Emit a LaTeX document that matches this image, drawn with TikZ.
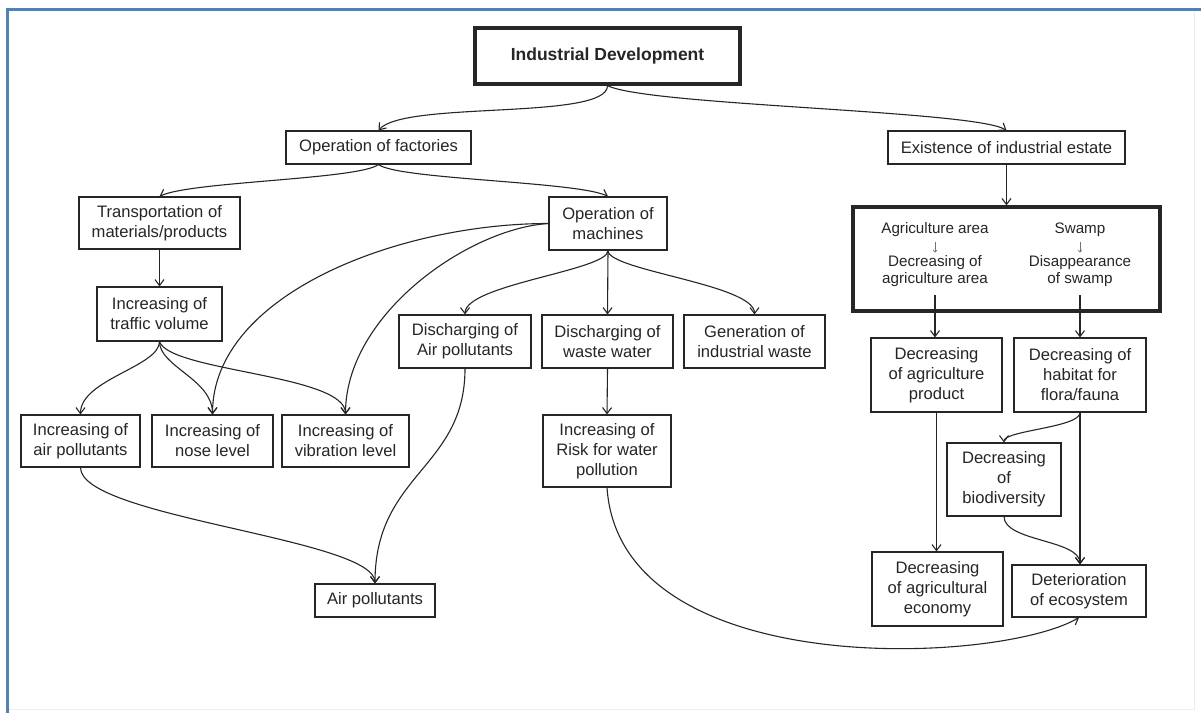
\documentclass[tikz,border=0pt]{standalone}
\usepackage{fontspec}
\setmainfont{Liberation Sans}
\usetikzlibrary{arrows.meta}
\definecolor{frameblue}{RGB}{79,129,189}
\definecolor{ink}{RGB}{38,38,38}
\newcommand\boxfont{\fontsize{16.6pt}{20pt}\selectfont}
\newcommand\innerfont{\fontsize{15.2pt}{17pt}\selectfont}
% box: name, x, y, width, height, text
\newcommand\bnode[6]{\node[bx,minimum width=#4pt,minimum height=#5pt] (#1) at (#2,#3) {#6};}

\begin{document}
\begin{tikzpicture}[x=1pt,y=-1pt,
  bx/.style={draw=ink,line width=1.1pt,inner sep=0pt,align=center,font=\boxfont,text=ink},
  heavy/.style={line width=3.3pt},
  lbl/.style={inner sep=0pt,align=center,font=\innerfont,text=ink},
  conn/.style={draw=ink,line width=1.1pt,-{Straight Barb[length=6pt,width=9pt,line width=1.1pt]}},
  minilink/.style={draw=black!55,line width=0.7pt,-{Straight Barb[length=2pt,width=3.5pt,line width=0.7pt]}},
]
\useasboundingbox (0,0) rectangle (1201,713);
\fill[white] (0,0) rectangle (1201,713);

% frame
\draw[black!7,line width=1pt] (1194,10) -- (1194,709) -- (8,709);
\draw[frameblue,line width=2.6pt] (7.5,713) -- (7.5,9.5) -- (1201,9.5);

% top level
\node[bx,heavy,minimum width=265pt,minimum height=56pt,font=\bfseries\fontsize{17.5pt}{21pt}\selectfont] (ID) at (607.5,56) {Industrial Development};

\bnode{opf}{378.5}{147.5}{185}{33}{Operation of factories}
\bnode{exi}{1006.5}{147.5}{237}{33}{Existence of industrial estate}

% left branch
\bnode{trans}{159.5}{223}{161}{52}{Transportation of\\materials/products}
\bnode{opm}{608}{223.5}{118}{53}{Operation of\\machines}
\bnode{traffic}{159.5}{314}{125}{54}{Increasing of\\traffic volume}
\bnode{dair}{465}{341.5}{132}{53}{Discharging of\\Air pollutants}
\bnode{dww}{607.5}{341.5}{131}{53}{Discharging of\\waste water}
\bnode{gen}{754.5}{341.5}{141}{53}{Generation of\\industrial waste}
\bnode{iap}{80.5}{441}{119}{52}{Increasing of\\air pollutants}
\bnode{inl}{212.5}{441}{121}{52}{Increasing of\\nose level}
\bnode{ivl}{345.5}{441}{127}{52}{Increasing of\\vibration level}
\bnode{risk}{607}{451}{128}{72}{Increasing of\\Risk for water\\pollution}
\bnode{airp}{375}{600.5}{120}{33}{Air pollutants}

% right branch
\node[bx,heavy,minimum width=307pt,minimum height=104pt] (big) at (1006.5,259) {};
\node[lbl] (agA) at (935,230) {Agriculture area};
\node[lbl] (agB) at (935,271.5) {Decreasing of\\agriculture area};
\node[lbl] (swA) at (1080,230) {Swamp};
\node[lbl] (swB) at (1080,271.5) {Disappearance\\of swamp};
\draw[minilink,shorten <=5pt,shorten >=3pt] (agA.south) -- (agA.south |- agB.north);
\draw[minilink,shorten <=5pt,shorten >=3pt] (swA.south) -- (swA.south |- swB.north);

\bnode{agp}{936.5}{375}{131}{74}{Decreasing\\of agriculture\\product}
\bnode{hab}{1080}{375}{132}{74}{Decreasing of\\habitat for\\flora/fauna}
\bnode{bio}{1004}{479.5}{114}{73}{Decreasing\\of\\biodiversity}
\bnode{agec}{937.5}{589}{131}{74}{Decreasing\\of agricultural\\economy}
\bnode{det}{1079}{591}{134}{52}{Deterioration\\of ecosystem}

% connectors
\draw[conn] (ID.south) .. controls +(0,35) and +(25,-30) .. (opf.north);
\draw[conn] (ID.south) .. controls +(40,20) and +(-30,-20) .. (exi.north);
\draw[conn] (opf.south) .. controls +(-20,15) and +(30,-15) .. (trans.north);
\draw[conn] (opf.south) .. controls +(20,15) and +(-30,-15) .. (opm.north);
\draw[conn] (trans.south) -- (traffic.north);

\draw[conn] (opm.west) .. controls +(-150,0) and +(0,-120) .. (inl.north);
\draw[conn] (opm.west) .. controls +(-80,5) and +(0,-100) .. (ivl.north);

\draw[conn] (traffic.south) .. controls +(0,25) and +(0,-35) .. (iap.north);
\draw[conn] (traffic.south) .. controls +(0,25) and +(0,-35) .. (inl.north);
\draw[conn] (traffic.south) .. controls +(10,30) and +(0,-40) .. (ivl.north);

\draw[conn] (opm.south) .. controls +(0,20) and +(0,-30) .. (dair.north);
\draw[conn] (opm.south) -- (dww.north);
\draw[conn] (opm.south) .. controls +(0,20) and +(0,-30) .. (gen.north);
\draw[conn] (dww.south) -- (risk.north);

\draw[conn] (iap.south) .. controls +(0,50) and +(0,-45) .. (airp.north);
\draw[conn] (dair.south) .. controls +(0,100) and +(0,-110) .. (airp.north);

\draw[conn] (risk.south) .. controls +(13,195) and +(-80,47) .. (det.south);

\draw[conn] (exi.south) -- (big.north);
\draw[conn,shorten <=8pt] (agB.south) -- (agB.south |- agp.north);
\draw[conn,shorten <=8pt] (swB.south) -- (swB.south |- hab.north);
\draw[conn] (agp.south) -- (agp.south |- agec.north);
\draw[conn] (hab.south) -- (hab.south |- det.north);
\draw[conn] (hab.south) .. controls +(0,15) and +(0,-12) .. (bio.north);
\draw[conn] (bio.south) .. controls +(0,25) and +(0,-25) .. (hab.south |- det.north);
\end{tikzpicture}
\end{document}
